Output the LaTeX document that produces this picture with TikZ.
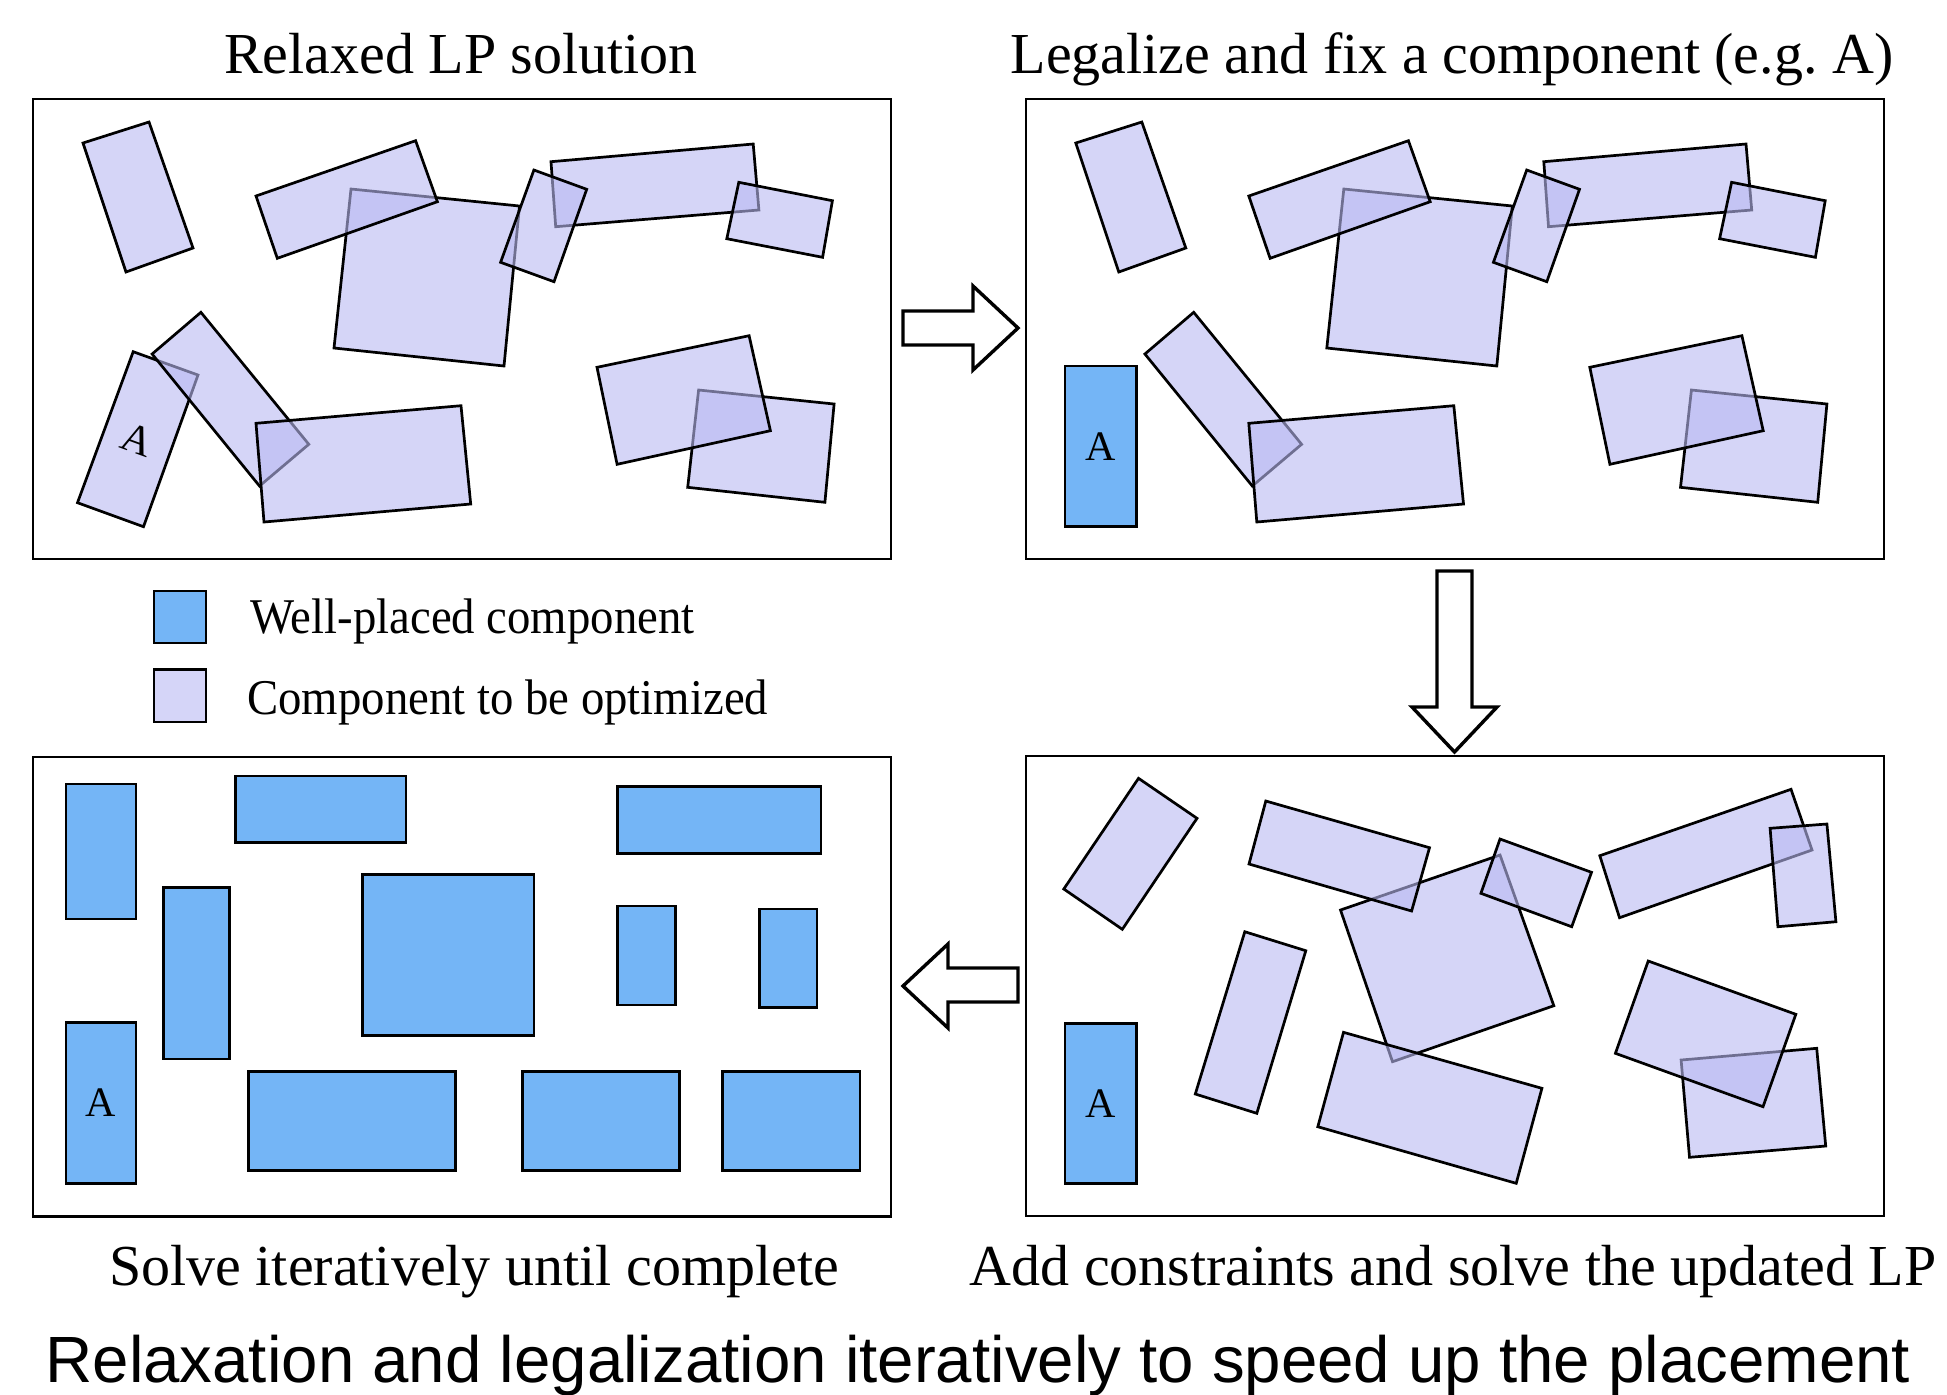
\documentclass[tikz,border=0pt]{standalone}
\usepackage{fontspec}
\usepackage{graphicx}
\setmainfont{Liberation Serif}
\newfontfamily\capsans{Liberation Sans}
\definecolor{lavfill}{RGB}{185,185,243}
\definecolor{lavsolid}{RGB}{213,213,248}
\definecolor{fixblue}{RGB}{116,181,246}
\tikzset{
  frame/.style={draw=black, line width=1.1pt},
  comp/.style={draw=black, line width=1.35pt, fill=lavfill, fill opacity=0.6, line join=miter},
  fixed/.style={draw=black, line width=1.4pt, fill=fixblue},
  blockarrow/.style={draw=black, line width=1.7pt, fill=white, line join=miter},
  title/.style={anchor=base, inner sep=0pt, font=\fontsize{29}{34}\selectfont},
  legtext/.style={anchor=base west, inner sep=0pt, font=\fontsize{25}{30}\selectfont},
  letter/.style={inner sep=0pt, font=\fontsize{21}{25}\selectfont},
}
\newcommand\lpshapes{%
  \draw[comp] (83,143) -- (149,122) -- (193,248) -- (126,272) -- cycle;
  \draw[comp] (351,189) -- (519.5,206) -- (504,366) -- (334,348) -- cycle;
  \draw[comp] (256,196) -- (415.6,140.7) -- (437.4,201.7) -- (277.3,258.3) -- cycle;
  \draw[comp] (551,161.7) -- (753.2,144) -- (758.9,210) -- (555.7,226.7) -- cycle;
  \draw[comp] (533.9,170) -- (586.7,189.3) -- (554,281.7) -- (500.6,262.3) -- cycle;
  \draw[comp] (738.8,182.3) -- (832.4,200.7) -- (822.6,257.3) -- (726.8,238.7) -- cycle;
  \draw[comp] (200.9,312.3) -- (308.8,444.3) -- (259.5,486) -- (152.1,354) -- cycle;
  \draw[comp] (256,423.3) -- (461,405.7) -- (470.7,504) -- (264,522) -- cycle;
  \draw[comp] (698.6,390) -- (834.1,404) -- (824.9,502.3) -- (687.7,487.3) -- cycle;
  \draw[comp] (597,367.3) -- (749.1,335.7) -- (770.4,430.7) -- (617.1,464.3) -- cycle;
}
\begin{document}
\begin{tikzpicture}[x=0.5pt,y=-0.5pt]
\useasboundingbox[fill=white] (0,0) rectangle (1947,1394);

% titles
\node[title] (t1) at (461,73) {Relaxed LP solution};
\node[title] (t2) at (1452,73) {Legalize and fix a component (e.g.\ A)};
\node[title] (t3) at (474,1285) {Solve iteratively until complete};
\node[title] (t4) at (1453,1285) {Add constraints and solve the updated LP};
\node[anchor=base, inner sep=0pt, font=\capsans\fontsize{32.7}{38}\selectfont] (cap) at (978,1382)
  {Relaxation and legalization iteratively to speed up the placement};

% panel 1
\draw[frame] (33.3,99.3) rectangle (891,559.3);
\draw[comp] (133.2,351.7) -- (198,375) -- (143.5,526.7) -- (77.5,502.7) -- cycle;
\node[letter, rotate=-20] (a1) at (137,440) {A};
\lpshapes

% panel 2
\draw[frame] (1026,99.3) rectangle (1883.7,559.3);
\begin{scope}[shift={(992.8,0)}]
\lpshapes
\end{scope}
\draw[fixed] (1065,366) rectangle (1136.7,526.7);
\node[letter] (a2) at (1101,446.3) {A};

% panel 3
\draw[frame] (33.3,756.7) rectangle (891,1216.5);
\draw[fixed] (66,784) rectangle (136,919);
\draw[fixed] (235.4,776) rectangle (405.9,842.3);
\draw[fixed] (617.7,786.7) rectangle (820.9,853.3);
\draw[fixed] (163.6,887.7) rectangle (229.6,1059);
\draw[fixed] (362.2,874.7) rectangle (533.9,1035.7);
\draw[fixed] (617.7,906) rectangle (675.1,1005);
\draw[fixed] (759.5,909) rectangle (816.9,1007.3);
\draw[fixed] (66,1022.7) rectangle (136,1183.3);
\node[letter] (a3) at (101,1103) {A};
\draw[fixed] (248.6,1071.7) rectangle (455.8,1170.7);
\draw[fixed] (522.4,1071.7) rectangle (679.7,1170.7);
\draw[fixed] (722.2,1071.7) rectangle (860,1170.7);

% panel 4
\draw[frame] (1026,756.3) rectangle (1883.7,1216.3);
\draw[fixed] (1065,1023.3) rectangle (1136.7,1183.3);
\node[letter] (a4) at (1101,1103.3) {A};
\draw[comp] (1138.5,778.3) -- (1197,818.3) -- (1122.3,929.3) -- (1063.8,889) -- cycle;
\draw[comp] (1340.5,910) -- (1500,855) -- (1553.8,1005.7) -- (1392.5,1061.7) -- cycle;
\draw[comp] (1265.8,801) -- (1429.5,847.7) -- (1411.6,911) -- (1249,864) -- cycle;
\draw[comp] (1500,839) -- (1591.5,872.3) -- (1571.7,926.7) -- (1480.9,893.3) -- cycle;
\draw[comp] (1343.5,1032.3) -- (1541.9,1088.3) -- (1516.2,1183.3) -- (1317.8,1126.7) -- cycle;
\draw[comp] (1244.8,931.7) -- (1305.8,950.7) -- (1256.8,1113.3) -- (1195.3,1094) -- cycle;
\draw[comp] (1599.8,855.7) -- (1791,789.3) -- (1812,850) -- (1619.5,917.7) -- cycle;
\draw[comp] (1770.1,828.3) -- (1826.9,824) -- (1835.9,921.7) -- (1777.9,926.7) -- cycle;
\draw[comp] (1681.1,1060) -- (1816.7,1048.3) -- (1825.7,1146) -- (1689.5,1157.3) -- cycle;
\draw[comp] (1648.2,961) -- (1795.8,1014.3) -- (1763,1106.7) -- (1615.4,1053.3) -- cycle;

% block arrows
\draw[blockarrow] (903,311) -- (973,311) -- (973,286) -- (1018,328) -- (973,370) -- (973,345) -- (903,345) -- cycle;
\draw[blockarrow] (1437,571) -- (1472,571) -- (1472,707) -- (1497,707) -- (1454.5,752) -- (1412,707) -- (1437,707) -- cycle;
\draw[blockarrow] (1018,968) -- (948,968) -- (948,944) -- (903,986) -- (948,1028) -- (948,1002) -- (1018,1002) -- cycle;

% legend
\draw[draw=black, line width=1.3pt, fill=fixblue] (154,591) rectangle (206,643);
\draw[draw=black, line width=1.3pt, fill=lavsolid] (154,669.5) rectangle (206,722);
\node[legtext] (l1) at (250,633) {\scalebox{0.935}[1]{Well-placed component}};
\node[legtext] (l2) at (247,714) {\scalebox{0.935}[1]{Component to be optimized}};
\end{tikzpicture}
\end{document}
